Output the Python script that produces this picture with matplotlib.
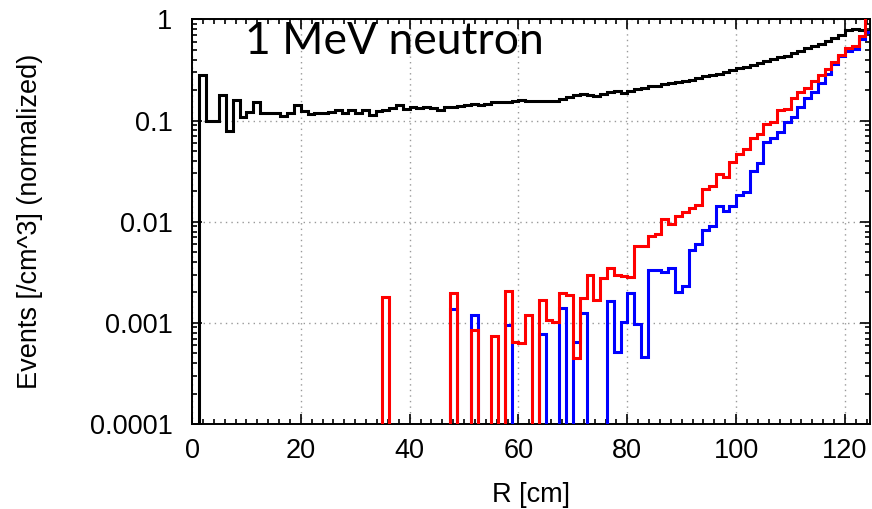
import numpy as np
import matplotlib.pyplot as plt
from matplotlib.ticker import FixedLocator, MultipleLocator, FuncFormatter

# ======================
# DONNÉES (histogrammes, pas de 1.25 cm)
# ======================

bin_width = 1.25
n_bins = 100

black_vals = [
    0, 0.283, 0.098, 0.098, 0.178, 0.078, 0.159, 0.109, 0.122, 0.152,
    0.120, 0.120, 0.118, 0.112, 0.120, 0.141, 0.123, 0.117, 0.119, 0.120,
    0.122, 0.127, 0.120, 0.128, 0.120, 0.127, 0.114, 0.123, 0.127, 0.133,
    0.141, 0.129, 0.136, 0.133, 0.136, 0.132, 0.128, 0.136, 0.137, 0.140,
    0.141, 0.147, 0.144, 0.146, 0.151, 0.152, 0.152, 0.156, 0.159, 0.155,
    0.155, 0.155, 0.156, 0.157, 0.164, 0.170, 0.178, 0.185, 0.179, 0.174,
    0.185, 0.190, 0.195, 0.189, 0.196, 0.203, 0.212, 0.220, 0.220, 0.229,
    0.235, 0.239, 0.246, 0.254, 0.264, 0.273, 0.283, 0.292, 0.303, 0.315,
    0.329, 0.340, 0.355, 0.368, 0.386, 0.404, 0.423, 0.440, 0.467, 0.492,
    0.519, 0.547, 0.577, 0.608, 0.652, 0.703, 0.782, 0.800, 0.790, 0.760,
]

red_vals = [
    0, 0, 0, 0, 0, 0, 0, 0, 0, 0,
    0, 0, 0, 0, 0, 0, 0, 0, 0, 0,
    0, 0, 0, 0, 0, 0, 0, 0, 0.00181, 0,
    0, 0, 0, 0, 0, 0, 0, 0, 0.00197, 0,
    0, 0.000855, 0, 0, 0.00074, 0, 0.00205, 0.00064, 0.00063, 0.0012,
    0, 0.00167, 0.00107, 0.00102, 0.00197, 0.0019, 0.00045, 0.00178, 0.0030, 0.00167,
    0.00277, 0.00348, 0.0030, 0.00288, 0.00283, 0.0058, 0.0057, 0.0072, 0.0075, 0.0106,
    0.0094, 0.0114, 0.0126, 0.0136, 0.0147, 0.0213, 0.0228, 0.0297, 0.0276, 0.0388,
    0.0469, 0.0521, 0.0679, 0.0744, 0.092, 0.0977, 0.126, 0.131, 0.166, 0.192,
    0.212, 0.248, 0.285, 0.327, 0.380, 0.449, 0.519, 0.551, 0.692, 1.1,
]

blue_vals = [
    0, 0, 0, 0, 0, 0, 0, 0, 0, 0,
    0, 0, 0, 0, 0, 0, 0, 0, 0, 0,
    0, 0, 0, 0, 0, 0, 0, 0, 0, 0,
    0, 0, 0, 0, 0, 0, 0, 0, 0.00138, 0,
    0, 0.00119, 0, 0, 0, 0, 0.00095, 0, 0, 0,
    0, 0.00077, 0, 0, 0.0014, 0, 0.00064, 0.00125, 0, 0,
    0, 0.00163, 0.00052, 0.00101, 0.00197, 0.00097, 0.00046, 0.0033, 0.0033, 0.0032,
    0.0035, 0.0020, 0.00234, 0.0052, 0.0060, 0.0083, 0.0091, 0.0144, 0.0127, 0.0144,
    0.0183, 0.0197, 0.0316, 0.0385, 0.061, 0.068, 0.0767, 0.0964, 0.109, 0.136,
    0.169, 0.192, 0.234, 0.289, 0.363, 0.436, 0.489, 0.515, 0.642, 0.75,
]

y_ticks = [1e-4, 1e-3, 1e-2, 1e-1, 1]
y_labels = ["0.0001", "0.001", "0.01", "0.1", "1"]

edges = np.arange(n_bins + 1) * bin_width

# ======================
# AFFICHAGE
# ======================

fig = plt.figure(figsize=(8.72, 5.09), dpi=100)
ax = fig.add_axes([0.2202, 0.167, 0.7775, 0.7948])

def clean(v):
    # les bins vides descendent sous l'axe
    v = np.array(v, dtype=float)
    v[v <= 0] = 1e-9
    return v

ax.stairs(clean(black_vals), edges, baseline=None, color="black", lw=2.2, zorder=3)
ax.stairs(clean(blue_vals), edges, baseline=None, color="#0000ff", lw=2.2, zorder=4)
ax.stairs(clean(red_vals), edges, baseline=None, color="#ff0000", lw=2.2, zorder=5)

ax.set_yscale("log")
ax.set_xlim(0, 124.6)
ax.set_ylim(1e-4, 1)

ax.yaxis.set_major_locator(FixedLocator(y_ticks))
ax.yaxis.set_major_formatter(FuncFormatter(lambda v, p: y_labels[y_ticks.index(v)] if v in y_ticks else ""))
ax.xaxis.set_major_locator(MultipleLocator(20))
ax.xaxis.set_minor_locator(MultipleLocator(2))

ax.tick_params(which="both", direction="in", top=True, right=True, width=1.2,
               labelsize=19.5, colors="black")
ax.tick_params(which="major", length=7)
ax.tick_params(which="minor", length=3.5)
ax.tick_params(axis="y", pad=14)
ax.tick_params(axis="x", pad=10)
for lab in ax.get_xticklabels() + ax.get_yticklabels():
    lab.set_fontfamily("Liberation Sans")

for s in ax.spines.values():
    s.set_linewidth(1.4)

ax.grid(True, which="major", ls=(0, (1, 3)), color="#999999", lw=1.0)

ax.set_xlabel("R [cm]", fontsize=19.5, family="Liberation Sans")
ax.set_ylabel("Events [/cm^3] (normalized)", fontsize=19.5, family="Liberation Sans")
ax.xaxis.set_label_coords(0.5, -0.143)
ax.yaxis.set_label_coords(-0.22, 0.5)

ax.text(0.078, 0.914, "1 MeV neutron", transform=ax.transAxes, fontsize=32,
        family="Lato", va="baseline", ha="left", zorder=6)

fig.savefig("out.png", dpi=100)
